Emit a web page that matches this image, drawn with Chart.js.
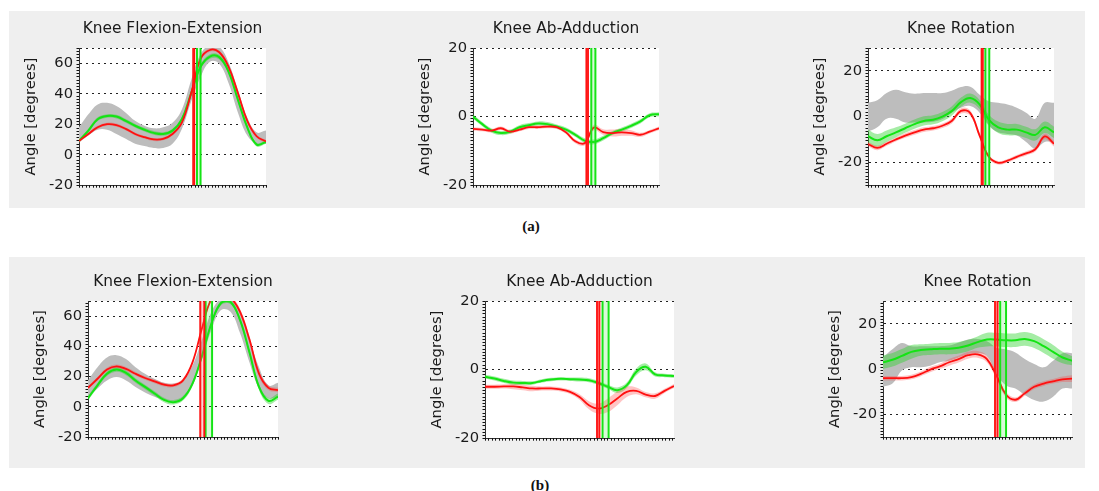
<!DOCTYPE html>
<html>
<head>
<meta charset="utf-8">
<script src="https://cdn.jsdelivr.net/npm/chart.js@4.4.1/dist/chart.umd.min.js"></script>
<style>
  html, body { margin: 0; padding: 0; background: #fff; width: 1099px; height: 491px; overflow: hidden; position: relative; }
  .panel { position: absolute; left: 9px; width: 1076px; background: #efefef; }
  canvas { position: absolute; }
  .tag { position: absolute; font: bold 15px "Liberation Serif", serif; color: #111; transform: translate(-50%, -50%); }
</style>
</head>
<body>
<div class="panel" style="top:11px;height:197px"></div>
<div class="panel" style="top:257px;height:211px"></div>
<canvas id="flexA"></canvas>
<canvas id="abdA"></canvas>
<canvas id="rotA"></canvas>
<canvas id="flexB"></canvas>
<canvas id="abdB"></canvas>
<canvas id="rotB"></canvas>
<div class="tag" style="left:531px;top:226px">(a)</div>
<div class="tag" style="left:540px;top:485px">(b)</div>
<script>
// % of gait cycle
const gaitPct = [0, 5, 10, 15, 20, 25, 30, 35, 40, 45, 50, 55, 60, 65, 70, 75, 80, 85, 90, 95, 100];

// y axis ticks
const flexTicks = [-20, 0, 20, 40, 60, 70];
const flexLabels = ["-20", "0", "20", "40", "60", ""];
const abdTicks = [-20, 0, 20];
const abdLabels = ["-20", "0", "20"];
const rotTicks = [-30, -20, 0, 20, 30];
const rotLabels = ["", "-20", "0", "20", ""];

// (a) flexion-extension
const flexAGreyLo = [8, 12.6, 16.4, 16.4, 13.6, 10.4, 7.2, 5.7, 4.4, 4.4, 7.2, 16.9, 35, 51, 61, 59.7, 46.9, 27.6, 12.6, 7.2, 7.2];
const flexAGreyHi = [18, 26.5, 33, 34, 31.9, 27.6, 22.2, 19, 17.3, 18, 21, 29.7, 49, 66, 72, 71, 60.5, 42.6, 24.4, 14.7, 15.8];
const flexAGreen = [9, 15.8, 23.3, 25.4, 25, 22.2, 19, 16.4, 14.3, 13.6, 15.8, 23.3, 40.4, 57.6, 64.4, 64, 54.4, 36, 17.9, 6.6, 8.3];
const flexAGreenSd = [1, 1.2, 1.2, 1.2, 1.2, 1.2, 1.2, 1.2, 1.2, 1.2, 1.2, 1.2, 1.5, 1.5, 1.5, 1.5, 1.5, 1.5, 1.5, 1.2, 1.2];
const flexARed = [9, 13.6, 18, 20, 19.4, 16.9, 13.6, 11.5, 10, 10.4, 13.6, 21, 40.4, 62.9, 68.7, 67.2, 57.6, 40.4, 22.2, 12.1, 8.7];
const flexARedSd = [0.8, 1, 1, 1, 1, 1, 1, 1, 1, 1, 1, 1.2, 1.5, 1.5, 1.2, 1.2, 1.5, 1.5, 1.2, 1, 1];
const flexAToeRed = [61.1, 61.6];
const flexAToeGreen = [63.1, 65.0];

// (a) ab-adduction
const abdAGreen = [0, -2.2, -4.1, -4.8, -4.4, -3.1, -2.5, -2.0, -2.2, -2.9, -3.8, -5.3, -7.0, -7.4, -6.3, -4.8, -3.8, -2.7, -1.4, 0.4, 0.7];
const abdAGreenSd = [0.6, 0.6, 0.6, 0.6, 0.6, 0.6, 0.6, 0.6, 0.6, 0.6, 0.6, 0.6, 0.7, 0.7, 0.7, 0.6, 0.6, 0.6, 0.6, 0.6, 0.6];
const abdARed = [-3.6, -3.8, -4.1, -3.4, -4.4, -3.8, -3.1, -3.1, -2.9, -3.1, -4.6, -7.2, -7.8, -3.2, -4.5, -4.8, -4.6, -4.8, -5.3, -4.4, -3.4];
const abdARedSd = [0.5, 0.5, 0.5, 0.5, 0.5, 0.5, 0.5, 0.5, 0.5, 0.5, 0.5, 0.6, 0.6, 0.8, 0.8, 1, 1, 0.8, 0.6, 0.5, 0.5];
const abdAToeRed = [61.0, 61.8];
const abdAToeGreen = [63.6, 65.8];

// (a) rotation
const rotAGreyLo = [-6.6, -4.7, -0.9, -0.9, -2.6, -2.6, -2.6, -2.3, -1.1, 1.7, 3.9, 4.6, 1.7, -4, -6.9, -7.6, -8.3, -11.1, -14, -11.1, -11.1];
const rotAGreyHi = [6, 7.1, 10.3, 11.7, 10.6, 10, 10.3, 10.3, 10.3, 11.3, 12.9, 13.1, 9.6, 6.7, 6, 5.3, 3.9, 1.7, -0.9, 6, 6];
const rotAGreen = [-8.6, -10.4, -8.6, -6.9, -5.1, -3.3, -1.9, -1.4, 0, 2.4, 6.3, 8.1, 5.3, -1.4, -4.7, -5.7, -5.7, -6.9, -8, -4.7, -6.9];
const rotAGreenSd = [3, 2.8, 2.5, 2.2, 2, 2, 2, 2, 2, 2, 2, 2, 2, 2.2, 2.5, 2.5, 2.5, 2.5, 2.5, 2.5, 2.5];
const rotARed = [-12, -13.7, -11.9, -10, -8.3, -6.9, -5.7, -5.1, -4, -1.9, 2.5, 1.5, -8.3, -17.6, -20.2, -19.3, -17.6, -16.1, -14.3, -8.7, -11.9];
const rotARedSd = [1, 1, 0.9, 0.9, 1, 1, 1, 1, 1, 1.1, 1.2, 1.2, 1, 0.8, 0.8, 0.8, 0.8, 0.9, 1, 1.2, 1.2];
const rotAToeRed = [61.1, 61.7];
const rotAToeGreen = [63.1, 65.2];

// (b) flexion-extension
const flexBGreyLo = [6.8, 12.2, 17.5, 19.7, 17.5, 13.2, 9.6, 6.8, 4.6, 3.5, 5.7, 14.3, 31.6, 51, 64, 62.9, 48.8, 29.4, 12.2, 5.7, 6.8];
const flexBGreyHi = [17.5, 26.2, 32.7, 34.2, 31.6, 26.2, 21.9, 18.6, 16, 15.4, 17.5, 27.3, 44.5, 62.9, 71.5, 71.5, 62.9, 44.5, 26.2, 14.3, 16];
const flexBGreen = [5.7, 14.3, 21.9, 24.7, 22.5, 17.5, 13.2, 8.9, 4.6, 3.1, 5.7, 15.4, 33.7, 55.3, 68.7, 69.4, 57.5, 35.9, 13.2, 4, 6.8];
const flexBGreenSd = [1.5, 1.5, 1.5, 1.5, 1.5, 1.5, 1.5, 1.5, 1.5, 1.5, 1.5, 1.5, 1.5, 1.5, 1.5, 1.5, 1.5, 1.8, 2, 2, 2];
const flexBRed = [12.6, 18.6, 24.7, 26.8, 25.1, 21.9, 19.1, 16.9, 14.7, 14.3, 17.5, 29.4, 52, 71.5, 76, 72.5, 62.9, 44.5, 22, 12.6, 11.1];
const flexBRedSd = [1.2, 1.2, 1.2, 1.2, 1.2, 1.2, 1.2, 1.2, 1.2, 1.2, 1.2, 1.2, 1.5, 1.5, 1.5, 1.5, 2, 2, 2, 1.5, 1.5];
const flexBToeRed = [59.1, 61.2];
const flexBToeGreen = [61.9, 65.3];

// (b) ab-adduction
const abdBGreen = [-2.1, -2.6, -3.3, -3.8, -3.9, -3.9, -3.3, -2.9, -2.7, -2.8, -2.9, -3.1, -3.9, -5.0, -6.0, -4.6, -0.7, 0.8, -1.4, -1.7, -1.9];
const abdBGreenSd = [0.5, 0.6, 0.6, 0.6, 0.6, 0.5, 0.5, 0.5, 0.5, 0.5, 0.6, 0.6, 0.6, 0.6, 0.8, 0.8, 1, 1, 0.6, 0.5, 0.5];
const abdBRed = [-5, -5, -4.9, -4.9, -5.2, -5.5, -5.5, -5.5, -5.8, -6.5, -8, -10.4, -11.4, -10.4, -8.4, -6.5, -6.2, -7.3, -7.7, -6.2, -4.8];
const abdBRedSd = [0.6, 0.6, 0.6, 0.8, 0.8, 0.8, 0.6, 0.6, 0.6, 0.6, 0.8, 1.2, 1.5, 2, 2, 1.5, 1, 0.8, 0.8, 0.6, 0.6];
const abdBToeRed = [59.3, 60.5];
const abdBToeGreen = [62.2, 65.4];

// (b) rotation
const rotBGreyLo = [-7.8, -6.4, -0.6, 0.8, 0.8, 1.5, 3, 3.7, 5.1, 6.5, 7, 5.8, -1.8, -7.1, -8.6, -11.4, -13.6, -14.3, -12.2, -8.6, -8.6];
const rotBGreyHi = [5.1, 8.7, 11.5, 10.1, 10.1, 10.1, 10.1, 10.4, 11.6, 13, 13.3, 12.3, 9.4, 8.7, 7.3, 4.4, 2.2, 0.8, 3.7, 7, 7];
const rotBGreen = [3, 4.1, 5.8, 7.6, 8.4, 8.7, 9, 9, 9.4, 10.4, 11.9, 13, 13, 12.7, 12.7, 13.3, 12.3, 10.1, 7.6, 5.1, 3.7];
const rotBGreenSd = [3, 3, 3, 3, 2.5, 2.5, 2.5, 2.5, 2.5, 2.5, 2.5, 3, 3, 3, 3, 3, 3, 3, 3, 2.5, 2];
const rotBRed = [-4, -4, -4, -3.5, -2.1, -0.2, 1.2, 3, 4.4, 6.1, 6.5, 4.4, -2.8, -11.2, -13.5, -10.7, -7.8, -6.4, -5.4, -4.5, -4.2];
const rotBRedSd = [1, 1, 1, 1, 1, 1.2, 1.2, 1.5, 1.5, 1.5, 1.5, 1.5, 1.5, 1.2, 1, 1, 1, 1, 1, 1.2, 1.5];
const rotBToeRed = [59.3, 60.6];
const rotBToeGreen = [62.0, 65.1];

const panels = [
  { id: "flexA", title: "Knee Flexion-Extension", yMin: -20, yMax: 70, ticks: flexTicks, labels: flexLabels, area: [79, 48, 187, 140],
    greyLo: flexAGreyLo, greyHi: flexAGreyHi, green: flexAGreen, greenSd: flexAGreenSd, red: flexARed, redSd: flexARedSd, toeRed: flexAToeRed, toeGreen: flexAToeGreen },
  { id: "abdA", title: "Knee Ab-Adduction", yMin: -20, yMax: 20, ticks: abdTicks, labels: abdLabels, area: [473, 48, 186, 140],
    green: abdAGreen, greenSd: abdAGreenSd, red: abdARed, redSd: abdARedSd, toeRed: abdAToeRed, toeGreen: abdAToeGreen },
  { id: "rotA", title: "Knee Rotation", yMin: -30, yMax: 30, ticks: rotTicks, labels: rotLabels, area: [868, 48, 186, 140],
    greyLo: rotAGreyLo, greyHi: rotAGreyHi, green: rotAGreen, greenSd: rotAGreenSd, red: rotARed, redSd: rotARedSd, toeRed: rotAToeRed, toeGreen: rotAToeGreen },
  { id: "flexB", title: "Knee Flexion-Extension", yMin: -20, yMax: 70, ticks: flexTicks, labels: flexLabels, area: [88, 301, 190, 139],
    greyLo: flexBGreyLo, greyHi: flexBGreyHi, green: flexBGreen, greenSd: flexBGreenSd, red: flexBRed, redSd: flexBRedSd, toeRed: flexBToeRed, toeGreen: flexBToeGreen },
  { id: "abdB", title: "Knee Ab-Adduction", yMin: -20, yMax: 20, ticks: abdTicks, labels: abdLabels, area: [485, 301, 189, 140],
    green: abdBGreen, greenSd: abdBGreenSd, red: abdBRed, redSd: abdBRedSd, toeRed: abdBToeRed, toeGreen: abdBToeGreen },
  { id: "rotB", title: "Knee Rotation", yMin: -30, yMax: 30, ticks: rotTicks, labels: rotLabels, area: [883, 301, 189, 139],
    greyLo: rotBGreyLo, greyHi: rotBGreyHi, green: rotBGreen, greenSd: rotBGreenSd, red: rotBRed, redSd: rotBRedSd, toeRed: rotBToeRed, toeGreen: rotBToeGreen }
];

Chart.defaults.font.family = "'DejaVu Sans', sans-serif";
Chart.defaults.color = "#1a1a1a";

const GREY = "#bdbdbd";
const RED = "#ff1010";
const GREEN = "#14e414";
const RED_BAND = "rgba(255, 60, 60, 0.3)";
const GREEN_BAND = "rgba(40, 210, 40, 0.42)";
const RED_TOE = "rgba(255, 80, 80, 0.25)";
const GREEN_TOE = "rgba(60, 230, 60, 0.2)";
const NONE = "rgba(0,0,0,0)";

// white plotting area on the grey panel
const plotBg = {
  id: "plotBg",
  beforeDraw(chart) {
    const { ctx, chartArea: a } = chart;
    ctx.save();
    ctx.fillStyle = "#fff";
    ctx.fillRect(a.left, a.top, a.right - a.left, a.bottom - a.top);
    ctx.restore();
  }
};

// small tick marks along the left and bottom axes
const minorTicks = {
  id: "minorTicks",
  afterDraw(chart) {
    const { ctx, chartArea: a } = chart;
    ctx.save();
    ctx.strokeStyle = "#111";
    ctx.lineWidth = 1;
    ctx.beginPath();
    for (let y = a.bottom; y >= a.top - 0.5; y -= 3.2) {
      const yy = Math.round(y) + 0.5;
      ctx.moveTo(a.left - 2.5, yy);
      ctx.lineTo(a.left, yy);
    }
    for (let x = a.left; x <= a.right + 0.5; x += 3.4) {
      const xx = Math.round(x) + 0.5;
      ctx.moveTo(xx, a.bottom);
      ctx.lineTo(xx, a.bottom + 2.5);
    }
    ctx.stroke();
    ctx.restore();
  }
};

function pts(values) {
  return gaitPct.map((x, i) => ({ x, y: values[i] }));
}

function curve(values, color, width, order) {
  return { data: pts(values), borderColor: color, borderWidth: width, pointRadius: 0,
           tension: 0.4, fill: false, order };
}

function band(lo, hi, color, order) {
  return [
    { data: pts(lo), borderColor: NONE, borderWidth: 0, pointRadius: 0, tension: 0.4, fill: false, order },
    { data: pts(hi), borderColor: NONE, borderWidth: 0, pointRadius: 0, tension: 0.4, fill: "-1", backgroundColor: color, order }
  ];
}

// toe-off range: two vertical lines with a pale strip between them
function toeOff(pair, p, lineColor, fillColor, order) {
  return [
    { data: [{ x: pair[0], y: p.yMax }, { x: pair[1], y: p.yMax }], borderColor: NONE, borderWidth: 0, pointRadius: 0,
      fill: "start", backgroundColor: fillColor, order },
    { data: [{ x: pair[0], y: p.yMin }, { x: pair[0], y: p.yMax }], borderColor: lineColor, borderWidth: 2, pointRadius: 0, fill: false, order },
    { data: [{ x: pair[1], y: p.yMin }, { x: pair[1], y: p.yMax }], borderColor: lineColor, borderWidth: 2, pointRadius: 0, fill: false, order }
  ];
}

function buildChart(p) {
  const pad = { left: 60, top: 40, right: 8, bottom: 12 };
  const canvas = document.getElementById(p.id);
  canvas.width = p.area[2] + pad.left + pad.right;
  canvas.height = p.area[3] + pad.top + pad.bottom;
  canvas.style.left = (p.area[0] - pad.left) + "px";
  canvas.style.top = (p.area[1] - pad.top) + "px";

  const datasets = [];
  if (p.greyLo) datasets.push(...band(p.greyLo, p.greyHi, GREY, 9));
  datasets.push(...band(p.green.map((v, i) => v - p.greenSd[i]), p.green.map((v, i) => v + p.greenSd[i]), GREEN_BAND, 8));
  datasets.push(...band(p.red.map((v, i) => v - p.redSd[i]), p.red.map((v, i) => v + p.redSd[i]), RED_BAND, 7));
  datasets.push(curve(p.green, GREEN, 2, 6));
  datasets.push(curve(p.red, RED, 1.8, 5));
  datasets.push(...toeOff(p.toeGreen, p, GREEN, GREEN_TOE, 4));
  datasets.push(...toeOff(p.toeRed, p, RED, RED_TOE, 3));
  datasets.forEach(d => { d.xAxisID = "x"; d.yAxisID = "y"; });

  const chart = new Chart(canvas, {
    type: "line",
    data: { datasets },
    options: {
      responsive: false,
      animation: false,
      events: [],
      layout: { padding: { right: pad.right } },
      plugins: { legend: { display: false }, tooltip: { enabled: false } },
      scales: {
        x: {
          type: "linear", min: 0, max: 100,
          ticks: { display: false },
          grid: { display: false },
          border: { color: "#333" },
          afterFit(s) { s.height = pad.bottom; }
        },
        xTitle: {
          axis: "x", type: "linear", position: "top", min: 0, max: 100,
          ticks: { display: false },
          grid: { display: false },
          border: { display: false },
          title: { display: true, text: p.title, color: "#1a1a1a", font: { size: 15.4 }, padding: { top: 12, bottom: 0 } },
          afterFit(s) { s.height = pad.top; }
        },
        y: {
          type: "linear", min: p.yMin, max: p.yMax,
          afterBuildTicks(s) { s.ticks = p.ticks.map(v => ({ value: v })); },
          ticks: { padding: 6, font: { size: 14.7 }, color: "#1a1a1a", callback: (v, i) => p.labels[i] },
          grid: { color: "#222", lineWidth: 1, drawTicks: false },
          border: { color: "#333", dash: [2, 4] },
          title: { display: true, text: "Angle [degrees]", color: "#1a1a1a", font: { size: 14.8 }, padding: { top: 3, bottom: 0 } },
          afterFit(s) { s.width = pad.left; }
        }
      }
    },
    plugins: [plotBg, minorTicks]
  });

  // put the plotting area exactly where the panel wants it
  const ca = chart.chartArea;
  canvas.style.left = (p.area[0] - ca.left) + "px";
  canvas.style.top = (p.area[1] - ca.top) + "px";
  return chart;
}

panels.forEach(buildChart);
</script>
</body>
</html>
